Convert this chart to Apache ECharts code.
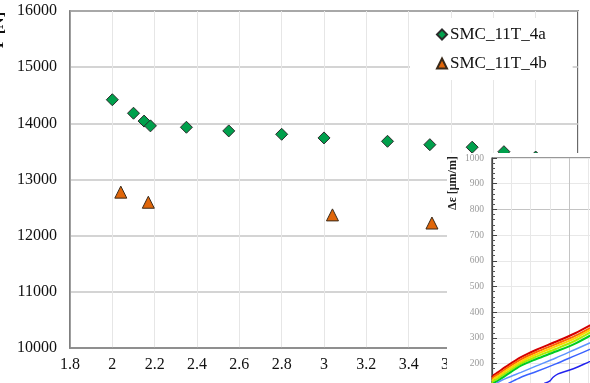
<!DOCTYPE html>
<html>
<head>
<meta charset="utf-8">
<script src="https://cdn.jsdelivr.net/npm/echarts@6/dist/echarts.min.js"></script>
<style>
  html, body { margin: 0; padding: 0; background: #fff; }
  #chart { width: 590px; height: 383px; }
</style>
</head>
<body>
<div id="chart"></div>
<script>
// Main scatter: force vs. parameter for two specimens
const seriesA_x = [2.0, 2.1, 2.15, 2.18, 2.35, 2.55, 2.8, 3.0, 3.3, 3.5, 3.7, 3.85, 4.0];
const seriesA_y = [14420, 14180, 14040, 13955, 13930, 13865, 13805, 13740, 13680, 13620, 13575, 13495, 13400];
const seriesB_x = [2.04, 2.17, 3.04, 3.51];
const seriesB_y = [12775, 12595, 12370, 12225];
const seriesNames = ['SMC_11T_4a', 'SMC_11T_4b'];

// Inset: strain curves
const insetX = [0, 0.1, 0.3, 0.7, 1.5, 2.3, 3.3, 4.3, 5.3];
const strainRed = [147, 156, 166, 187, 225, 254, 285, 318, 358];
const strainOrange = [140, 149, 158, 179, 216, 245, 276, 308, 348];
const strainYellow = [132, 141, 150, 171, 208, 236, 267, 299, 340];
const strainLime = [124, 133, 142, 162, 200, 227, 257, 289, 330];
const strainGreen = [115, 124, 133, 153, 192, 218, 247, 278, 318];
const lightBlueX = [0, 0.3, 0.8, 1.5, 2.3, 3.3, 4.3, 5.3];
const strainLightBlue = [110, 127, 145, 166, 191, 222, 255, 288];
const blueX = [0.5, 0.83, 1.5, 2.3, 3.3, 4.3, 5.3];
const strainBlue = [110, 122, 147, 169, 199, 231, 263];
const darkBlueX = [2.4, 2.64, 3.0, 3.16, 3.42, 3.94, 4.46, 4.97, 5.3];
const strainDarkBlue = [110, 120, 133, 147, 160, 173, 188, 205, 215];

const zip = (xs, ys) => xs.map((x, i) => [x, ys[i]]);
const serif = '"Liberation Serif", "Times New Roman", serif';

const insetLines = [
  ['#d40000', strainRed, insetX],
  ['#ff6600', strainOrange, insetX],
  ['#ffd200', strainYellow, insetX],
  ['#a8ee00', strainLime, insetX],
  ['#00cc22', strainGreen, insetX],
  ['#5d94ff', strainLightBlue, lightBlueX],
  ['#3a62ff', strainBlue, blueX],
  ['#2222ee', strainDarkBlue, darkBlueX]
].map(([color, ys, xs], i) => ({
  type: 'line',
  xAxisIndex: 1,
  yAxisIndex: 1,
  data: zip(xs, ys),
  smooth: 0.3,
  symbol: 'none',
  z: 12,
  silent: true,
  lineStyle: { color: color, width: i < 5 ? 2 : 1.5 }
}));

const chart = echarts.init(document.getElementById('chart'), null, { renderer: 'canvas' });

chart.setOption({
  animation: false,
  backgroundColor: '#fff',
  grid: [
    { left: 70, right: 12, top: 11, bottom: 35, show: true, borderColor: '#1a1a1a', borderWidth: 1.3,
      containLabel: false, outerBoundsMode: 'none' },
    { left: 492, top: 158, width: 232, height: 257, show: true, backgroundColor: '#fff',
      borderColor: '#333', borderWidth: 1.2, z: 11, containLabel: false, outerBoundsMode: 'none' }
  ],
  legend: {
    orient: 'vertical',
    left: 410,
    top: 18,
    padding: [8, 26, 8, 26],
    backgroundColor: '#fff',
    itemWidth: 10,
    itemHeight: 10,
    itemGap: 12,
    textStyle: { fontFamily: serif, fontSize: 17, color: '#111', padding: [0, 0, 0, -2] },
    data: [
      { name: seriesNames[0], icon: 'diamond' },
      { name: seriesNames[1], icon: 'triangle' }
    ]
  },
  xAxis: [
    {
      type: 'value', gridIndex: 0, min: 1.8, max: 4.2, interval: 0.2,
      axisLine: { show: true, onZero: false, lineStyle: { color: '#878787', width: 1.5 } },
      axisTick: { show: false },
      axisLabel: { fontFamily: serif, fontSize: 16, color: '#111', margin: 9,
                   formatter: v => String(Math.round(v * 10) / 10) },
      splitLine: { show: true, lineStyle: { color: '#e6e6e6', width: 1 } }
    },
    {
      type: 'value', gridIndex: 1, min: 0, max: 12, interval: 1, z: 11,
      axisLine: { show: false },
      axisTick: { show: false },
      axisLabel: { show: false },
      splitLine: { show: true, lineStyle: { color: ['#c4c4c4', '#e8e8e8', '#e8e8e8', '#e8e8e8'], width: 1 } }
    }
  ],
  yAxis: [
    {
      type: 'value', gridIndex: 0, min: 10000, max: 16000, interval: 1000,
      axisLine: { show: true, onZero: false, lineStyle: { color: '#878787', width: 1.5 } },
      axisTick: { show: false },
      axisLabel: { fontFamily: serif, fontSize: 16, color: '#111', margin: 13,
                   formatter: v => String(v) },
      splitLine: { show: true, lineStyle: { color: '#c6c6c6', width: 1.5 } }
    },
    {
      type: 'value', gridIndex: 1, min: 0, max: 1000, interval: 100, z: 11,
      axisLine: { show: true, onZero: false, lineStyle: { color: '#444', width: 1.2 } },
      axisTick: { show: true, inside: true, length: 5, lineStyle: { color: '#444' } },
      minorTick: { show: true, splitNumber: 5, length: 3, lineStyle: { color: '#555' } },
      axisLabel: { fontFamily: serif, fontSize: 9.5, color: '#9a9a9a', margin: 8,
                   formatter: v => String(v) },
      splitLine: { show: true, lineStyle: { color: ['#c4c4c4', '#e8e8e8', '#e8e8e8', '#e8e8e8'], width: 1 } }
    }
  ],
  series: [
    {
      name: seriesNames[0], type: 'scatter', xAxisIndex: 0, yAxisIndex: 0,
      data: zip(seriesA_x, seriesA_y),
      symbol: 'diamond', symbolSize: 12,
      itemStyle: { color: '#00a04c', borderColor: '#2b2b2b', borderWidth: 1, opacity: 1 }
    },
    {
      name: seriesNames[1], type: 'scatter', xAxisIndex: 0, yAxisIndex: 0,
      data: zip(seriesB_x, seriesB_y),
      symbol: 'triangle', symbolSize: [12, 12],
      itemStyle: { color: '#e0660a', borderColor: '#3a2a1a', borderWidth: 1, opacity: 1 }
    }
  ].concat(insetLines),
  graphic: [
    {
      type: 'text', x: -1, y: 30, rotation: Math.PI / 2, z: 5,
      style: { text: 'F [N]', fontFamily: serif, fontSize: 16, fontWeight: 'bold',
               fill: '#111', textAlign: 'center', textVerticalAlign: 'middle' }
    },
    {
      type: 'rect', z: 10, silent: true,
      shape: { x: 447, y: 153, width: 143, height: 230 },
      style: { fill: '#fff' }
    },
    {
      type: 'text', x: 453, y: 183, rotation: Math.PI / 2, z: 13,
      style: { text: 'Δε [μm/m]', fontFamily: serif, fontSize: 12, fontWeight: 'bold',
               fill: '#222', textAlign: 'center', textVerticalAlign: 'middle' }
    }
  ]
});
</script>
</body>
</html>
